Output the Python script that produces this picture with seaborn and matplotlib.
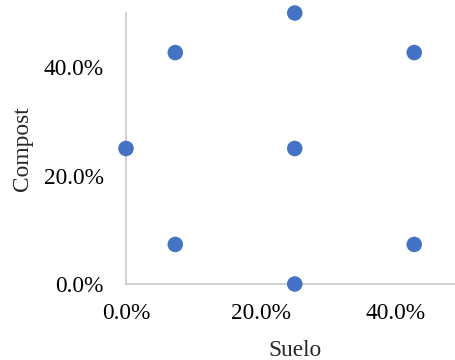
import matplotlib
matplotlib.use("Agg")
import matplotlib.pyplot as plt
from matplotlib.ticker import FuncFormatter
import pandas as pd
import seaborn as sns

# Mixture design points (percent of each component)
suelo = [0.0, 7.3, 25.0, 42.7, 7.3, 25.0, 42.7, 25.0]
compost = [25.0, 42.7, 50.0, 42.7, 7.3, 25.0, 7.3, 0.0]
tick_values = [0, 20, 40]

df = pd.DataFrame({"Suelo": suelo, "Compost": compost})

sns.set_style("white")
plt.rcParams["font.family"] = ["Liberation Serif", "DejaVu Serif"]

fig = plt.figure(figsize=(4.56, 3.6), dpi=100)
ax = fig.add_axes([126 / 456, 76 / 360, 337.5 / 456, 271 / 360])

sns.scatterplot(data=df, x="Suelo", y="Compost", ax=ax, s=125,
                color="#4472C4", edgecolor="none", clip_on=False, zorder=5)

ax.set_xlim(0, 50)
ax.set_ylim(0, 50)
ax.set_xticks(tick_values)
ax.set_yticks(tick_values)
fmt = FuncFormatter(lambda v, _: f"{v:.1f}%")
ax.xaxis.set_major_formatter(fmt)
ax.yaxis.set_major_formatter(fmt)
ax.tick_params(axis="both", length=0, labelsize=16.8, colors="#000000")
ax.tick_params(axis="x", pad=14)
ax.tick_params(axis="y", pad=16)

for side in ("top", "right"):
    ax.spines[side].set_visible(False)
for side in ("left", "bottom"):
    ax.spines[side].set_color("#c8c8c8")
    ax.spines[side].set_linewidth(1.2)
    ax.spines[side].set_zorder(1)

ax.set_xlabel("Suelo", fontsize=16.8, labelpad=11)
ax.set_ylabel("Compost", fontsize=16.8, labelpad=8)

fig.savefig("out.png", dpi=100)
